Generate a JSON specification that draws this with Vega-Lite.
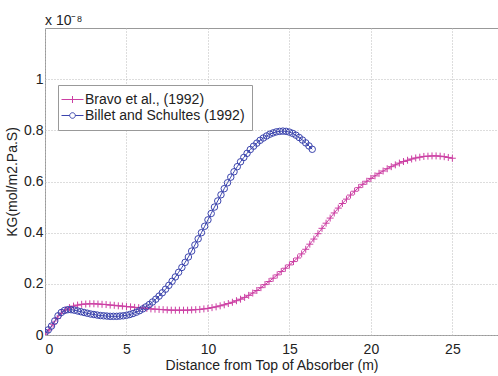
{
  "$schema": "https://vega.github.io/schema/vega-lite/v6.json",
  "width": 453,
  "height": 307,
  "autosize": "none",
  "padding": {"left": 45, "top": 28, "right": 0, "bottom": 41},
  "background": "white",
  "title": {"text": "x 10⁻⁸", "anchor": "start", "frame": "group", "font": "Liberation Sans", "fontSize": 14, "fontWeight": "normal", "color": "#222", "offset": 1, "baseline": "bottom", "dy": 15},
  "config": {
    "view": {"stroke": "#999", "strokeWidth": 1},
    "font": "Liberation Sans",
    "axis": {"labelFont": "Liberation Sans", "titleFont": "Liberation Sans", "labelFontSize": 14, "titleFontSize": 14, "titleFontWeight": "normal", "labelColor": "#222", "titleColor": "#222", "domain": false, "ticks": false, "grid": true, "gridColor": "#bbb", "gridDash": [1, 2], "gridWidth": 1}
  },
  "data": {"values": [
    {"s":"Bravo","x":0,"y":0.000},{"s":"Bravo","x":0.25,"y":0.020},{"s":"Bravo","x":0.5,"y":0.042},{"s":"Bravo","x":0.75,"y":0.065},{"s":"Bravo","x":1.0,"y":0.085},{"s":"Bravo","x":1.25,"y":0.098},{"s":"Bravo","x":1.5,"y":0.107},{"s":"Bravo","x":1.75,"y":0.113},{"s":"Bravo","x":2.0,"y":0.117},{"s":"Bravo","x":2.25,"y":0.120},{"s":"Bravo","x":2.5,"y":0.121},{"s":"Bravo","x":2.75,"y":0.122},{"s":"Bravo","x":3.0,"y":0.122},{"s":"Bravo","x":3.25,"y":0.121},{"s":"Bravo","x":3.5,"y":0.120},{"s":"Bravo","x":3.75,"y":0.119},{"s":"Bravo","x":4.0,"y":0.117},{"s":"Bravo","x":4.25,"y":0.116},{"s":"Bravo","x":4.5,"y":0.114},{"s":"Bravo","x":4.75,"y":0.113},{"s":"Bravo","x":5.0,"y":0.111},{"s":"Bravo","x":5.25,"y":0.110},{"s":"Bravo","x":5.5,"y":0.108},{"s":"Bravo","x":5.75,"y":0.107},{"s":"Bravo","x":6.0,"y":0.105},{"s":"Bravo","x":6.25,"y":0.104},{"s":"Bravo","x":6.5,"y":0.102},{"s":"Bravo","x":6.75,"y":0.101},{"s":"Bravo","x":7.0,"y":0.100},{"s":"Bravo","x":7.25,"y":0.099},{"s":"Bravo","x":7.5,"y":0.098},{"s":"Bravo","x":7.75,"y":0.097},{"s":"Bravo","x":8.0,"y":0.097},{"s":"Bravo","x":8.25,"y":0.097},{"s":"Bravo","x":8.5,"y":0.097},{"s":"Bravo","x":8.75,"y":0.097},{"s":"Bravo","x":9.0,"y":0.098},{"s":"Bravo","x":9.25,"y":0.099},{"s":"Bravo","x":9.5,"y":0.100},{"s":"Bravo","x":9.75,"y":0.102},{"s":"Bravo","x":10.0,"y":0.104},{"s":"Bravo","x":10.25,"y":0.107},{"s":"Bravo","x":10.5,"y":0.110},{"s":"Bravo","x":10.75,"y":0.114},{"s":"Bravo","x":11.0,"y":0.118},{"s":"Bravo","x":11.25,"y":0.123},{"s":"Bravo","x":11.5,"y":0.128},{"s":"Bravo","x":11.75,"y":0.134},{"s":"Bravo","x":12.0,"y":0.140},{"s":"Bravo","x":12.25,"y":0.147},{"s":"Bravo","x":12.5,"y":0.155},{"s":"Bravo","x":12.75,"y":0.164},{"s":"Bravo","x":13.0,"y":0.174},{"s":"Bravo","x":13.25,"y":0.185},{"s":"Bravo","x":13.5,"y":0.197},{"s":"Bravo","x":13.75,"y":0.209},{"s":"Bravo","x":14.0,"y":0.222},{"s":"Bravo","x":14.25,"y":0.235},{"s":"Bravo","x":14.5,"y":0.248},{"s":"Bravo","x":14.75,"y":0.261},{"s":"Bravo","x":15.0,"y":0.274},{"s":"Bravo","x":15.25,"y":0.287},{"s":"Bravo","x":15.5,"y":0.301},{"s":"Bravo","x":15.75,"y":0.317},{"s":"Bravo","x":16.0,"y":0.335},{"s":"Bravo","x":16.25,"y":0.355},{"s":"Bravo","x":16.5,"y":0.375},{"s":"Bravo","x":16.75,"y":0.396},{"s":"Bravo","x":17.0,"y":0.417},{"s":"Bravo","x":17.25,"y":0.437},{"s":"Bravo","x":17.5,"y":0.457},{"s":"Bravo","x":17.75,"y":0.477},{"s":"Bravo","x":18.0,"y":0.496},{"s":"Bravo","x":18.25,"y":0.514},{"s":"Bravo","x":18.5,"y":0.531},{"s":"Bravo","x":18.75,"y":0.547},{"s":"Bravo","x":19.0,"y":0.562},{"s":"Bravo","x":19.25,"y":0.576},{"s":"Bravo","x":19.5,"y":0.589},{"s":"Bravo","x":19.75,"y":0.601},{"s":"Bravo","x":20.0,"y":0.612},{"s":"Bravo","x":20.25,"y":0.622},{"s":"Bravo","x":20.5,"y":0.632},{"s":"Bravo","x":20.75,"y":0.641},{"s":"Bravo","x":21.0,"y":0.650},{"s":"Bravo","x":21.25,"y":0.658},{"s":"Bravo","x":21.5,"y":0.665},{"s":"Bravo","x":21.75,"y":0.672},{"s":"Bravo","x":22.0,"y":0.678},{"s":"Bravo","x":22.25,"y":0.683},{"s":"Bravo","x":22.5,"y":0.688},{"s":"Bravo","x":22.75,"y":0.692},{"s":"Bravo","x":23.0,"y":0.695},{"s":"Bravo","x":23.25,"y":0.698},{"s":"Bravo","x":23.5,"y":0.699},{"s":"Bravo","x":23.75,"y":0.700},{"s":"Bravo","x":24.0,"y":0.700},{"s":"Bravo","x":24.25,"y":0.699},{"s":"Bravo","x":24.5,"y":0.697},{"s":"Bravo","x":24.75,"y":0.694},{"s":"Bravo","x":25.0,"y":0.691},
    {"s":"Billet","x":0,"y":0.010},{"s":"Billet","x":0.2,"y":0.020},{"s":"Billet","x":0.4,"y":0.035},{"s":"Billet","x":0.6,"y":0.055},{"s":"Billet","x":0.8,"y":0.075},{"s":"Billet","x":1.0,"y":0.088},{"s":"Billet","x":1.2,"y":0.096},{"s":"Billet","x":1.4,"y":0.099},{"s":"Billet","x":1.6,"y":0.099},{"s":"Billet","x":1.8,"y":0.097},{"s":"Billet","x":2.0,"y":0.094},{"s":"Billet","x":2.2,"y":0.091},{"s":"Billet","x":2.4,"y":0.088},{"s":"Billet","x":2.6,"y":0.085},{"s":"Billet","x":2.8,"y":0.082},{"s":"Billet","x":3.0,"y":0.080},{"s":"Billet","x":3.2,"y":0.078},{"s":"Billet","x":3.4,"y":0.076},{"s":"Billet","x":3.6,"y":0.075},{"s":"Billet","x":3.8,"y":0.074},{"s":"Billet","x":4.0,"y":0.073},{"s":"Billet","x":4.2,"y":0.073},{"s":"Billet","x":4.4,"y":0.073},{"s":"Billet","x":4.6,"y":0.074},{"s":"Billet","x":4.8,"y":0.075},{"s":"Billet","x":5.0,"y":0.077},{"s":"Billet","x":5.2,"y":0.080},{"s":"Billet","x":5.4,"y":0.084},{"s":"Billet","x":5.6,"y":0.089},{"s":"Billet","x":5.8,"y":0.095},{"s":"Billet","x":6.0,"y":0.102},{"s":"Billet","x":6.2,"y":0.110},{"s":"Billet","x":6.4,"y":0.119},{"s":"Billet","x":6.6,"y":0.129},{"s":"Billet","x":6.8,"y":0.140},{"s":"Billet","x":7.0,"y":0.152},{"s":"Billet","x":7.2,"y":0.165},{"s":"Billet","x":7.4,"y":0.179},{"s":"Billet","x":7.6,"y":0.194},{"s":"Billet","x":7.8,"y":0.210},{"s":"Billet","x":8.0,"y":0.227},{"s":"Billet","x":8.2,"y":0.245},{"s":"Billet","x":8.4,"y":0.264},{"s":"Billet","x":8.6,"y":0.284},{"s":"Billet","x":8.8,"y":0.305},{"s":"Billet","x":9.0,"y":0.328},{"s":"Billet","x":9.2,"y":0.352},{"s":"Billet","x":9.4,"y":0.376},{"s":"Billet","x":9.6,"y":0.400},{"s":"Billet","x":9.8,"y":0.425},{"s":"Billet","x":10.0,"y":0.450},{"s":"Billet","x":10.2,"y":0.475},{"s":"Billet","x":10.4,"y":0.500},{"s":"Billet","x":10.6,"y":0.524},{"s":"Billet","x":10.8,"y":0.548},{"s":"Billet","x":11.0,"y":0.572},{"s":"Billet","x":11.2,"y":0.595},{"s":"Billet","x":11.4,"y":0.617},{"s":"Billet","x":11.6,"y":0.638},{"s":"Billet","x":11.8,"y":0.658},{"s":"Billet","x":12.0,"y":0.677},{"s":"Billet","x":12.2,"y":0.694},{"s":"Billet","x":12.4,"y":0.710},{"s":"Billet","x":12.6,"y":0.725},{"s":"Billet","x":12.8,"y":0.738},{"s":"Billet","x":13.0,"y":0.750},{"s":"Billet","x":13.2,"y":0.761},{"s":"Billet","x":13.4,"y":0.770},{"s":"Billet","x":13.6,"y":0.778},{"s":"Billet","x":13.8,"y":0.785},{"s":"Billet","x":14.0,"y":0.790},{"s":"Billet","x":14.2,"y":0.794},{"s":"Billet","x":14.4,"y":0.796},{"s":"Billet","x":14.6,"y":0.797},{"s":"Billet","x":14.8,"y":0.796},{"s":"Billet","x":15.0,"y":0.793},{"s":"Billet","x":15.2,"y":0.788},{"s":"Billet","x":15.4,"y":0.781},{"s":"Billet","x":15.6,"y":0.772},{"s":"Billet","x":15.8,"y":0.762},{"s":"Billet","x":16.0,"y":0.751},{"s":"Billet","x":16.2,"y":0.739},{"s":"Billet","x":16.4,"y":0.726}
  ]},
  "encoding": {
    "x": {"field": "x", "type": "quantitative", "scale": {"domain": [0, 27.8], "nice": false}, "axis": {"values": [0, 5, 10, 15, 20, 25], "format": "~g", "labelPadding": 7, "titlePadding": 2, "title": "Distance from Top of Absorber (m)"}},
    "y": {"field": "y", "type": "quantitative", "scale": {"domain": [0, 1.2], "nice": false}, "axis": {"values": [0, 0.2, 0.4, 0.6, 0.8, 1], "format": "~g", "labelPadding": 2, "titlePadding": 4, "title": "KG(mol/m2.Pa.S)"}},
    "color": {"field": "s", "type": "nominal", "scale": {"domain": ["Bravo", "Billet"], "range": ["#cc3fa3", "#3b44ad"]},
      "legend": {"title": null, "orient": "none", "legendX": 13, "legendY": 57, "padding": 7, "strokeColor": "#999", "fillColor": "white", "symbolSize": 196, "symbolStrokeWidth": 1, "symbolOpacity": 1, "symbolFillColor": "transparent", "labelOffset": 5, "rowPadding": 1, "labelFont": "Liberation Sans", "labelFontSize": 14, "labelColor": "#222", "labelLimit": 300,
        "labelExpr": "datum.label == 'Bravo' ? 'Bravo et al., (1992)' : 'Billet and Schultes (1992)'"}}
  },
  "layer": [
    {"mark": {"type": "line", "strokeWidth": 1, "clip": true}, "encoding": {"order": {"field": "x"}}},
    {"transform": [{"filter": "datum.s == 'Bravo'"}],
     "mark": {"type": "point", "shape": "M-1,0H1M0,-1V1", "filled": false, "size": 49, "strokeWidth": 1, "opacity": 1, "clip": true}},
    {"transform": [{"filter": "datum.s == 'Billet'"}],
     "mark": {"type": "point", "shape": "circle", "filled": false, "size": 42, "strokeWidth": 1, "opacity": 1, "clip": true}},
    {"mark": {"type": "point", "filled": false, "opacity": 0, "size": 1, "clip": true},
     "encoding": {
       "shape": {"field": "s", "type": "nominal", "scale": {"domain": ["Bravo", "Billet"], "range": ["M-1.57,0H1.57M0,-0.5V0.5M-0.5,0H0.5", "M-1.57,0H-0.4M0.4,0H1.57M-0.4,0A0.4,0.4 0 1,0 0.4,0A0.4,0.4 0 1,0 -0.4,0"]}}
     }}
  ]
}
